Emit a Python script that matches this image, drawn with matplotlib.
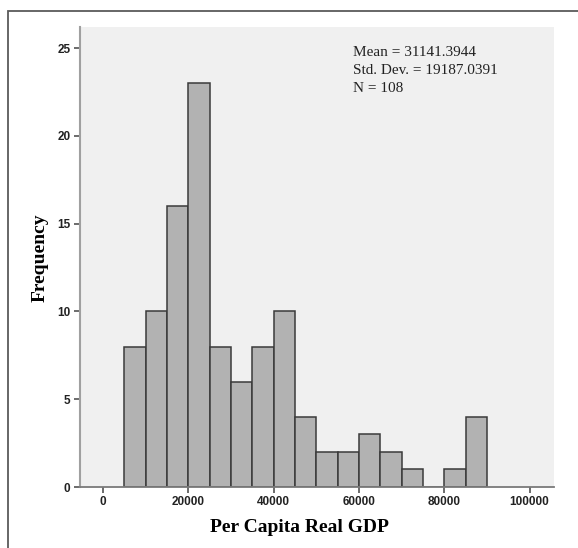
import matplotlib
matplotlib.use('Agg')
import matplotlib.pyplot as plt
from matplotlib.patches import Rectangle

# histogram of per capita real GDP, 5000-wide bins
bin_lefts = [5000, 10000, 15000, 20000, 25000, 30000, 35000, 40000, 45000,
             50000, 55000, 60000, 65000, 70000, 75000, 80000, 85000]
counts = [8, 10, 16, 23, 8, 6, 8, 10, 4, 2, 2, 3, 2, 1, 0, 1, 4]
bin_width = 5000

x_ticks = [0, 20000, 40000, 60000, 80000, 100000]
y_ticks = [0, 5, 10, 15, 20, 25]
stats_lines = ['Mean = 31141.3944', 'Std. Dev. = 19187.0391', 'N = 108']

serif = ['Liberation Serif', 'DejaVu Serif']
sans = ['Liberation Sans', 'DejaVu Sans']

W, H = 578, 548
fig = plt.figure(figsize=(W / 100, H / 100), dpi=100)
ax = fig.add_axes([79.5 / W, 1 - 487 / H, (553.5 - 79.5) / W, (487 - 27) / H])
ax.set_facecolor('#f0f0f0')

ax.bar(bin_lefts, counts, width=bin_width, align='edge',
       color='#b2b2b2', edgecolor='#3a3a3a', linewidth=1.1, zorder=2)

ax.set_xlim(-5550, 105600)
ax.set_ylim(0, 26.2)
ax.set_xticks(x_ticks)
ax.set_yticks(y_ticks)
ax.set_xticklabels([str(t) for t in x_ticks], fontsize=8.5, fontweight='bold',
                   family=sans, color='#222222')
ax.set_yticklabels([str(t) for t in y_ticks], fontsize=8.5, fontweight='bold',
                   family=sans, color='#222222')
ax.tick_params(direction='out', length=4.5, width=1.1, color='#444444', pad=2)

for side in ['top', 'right']:
    ax.spines[side].set_visible(False)
ax.spines['left'].set_color('#a0a0a0')
ax.spines['left'].set_linewidth(1.5)
ax.spines['bottom'].set_color('#7a7a7a')
ax.spines['bottom'].set_linewidth(1.3)

# axis titles placed in figure pixels
fig.text(299 / W, 1 - 527 / H, 'Per Capita Real GDP', fontsize=14,
         fontweight='bold', family=serif, ha='center', va='center')
fig.text(40 / W, 1 - 258 / H, 'Frequency', fontsize=14, fontweight='bold',
         family=serif, ha='center', va='center', rotation=90)

for i, line in enumerate(stats_lines):
    fig.text(352.7 / W, 1 - (52.5 + i * 18) / H, line,
             fontsize=11, family=serif, color='#222222',
             va='center', ha='left')

# outer frame around the figure
fig.patches.append(Rectangle((7.5 / W, -0.1), 1.2, 1 - 11.5 / H + 0.1,
                             transform=fig.transFigure, fill=False,
                             edgecolor='#5a5a5a', linewidth=1.3))

fig.savefig('out.png', dpi=100)
